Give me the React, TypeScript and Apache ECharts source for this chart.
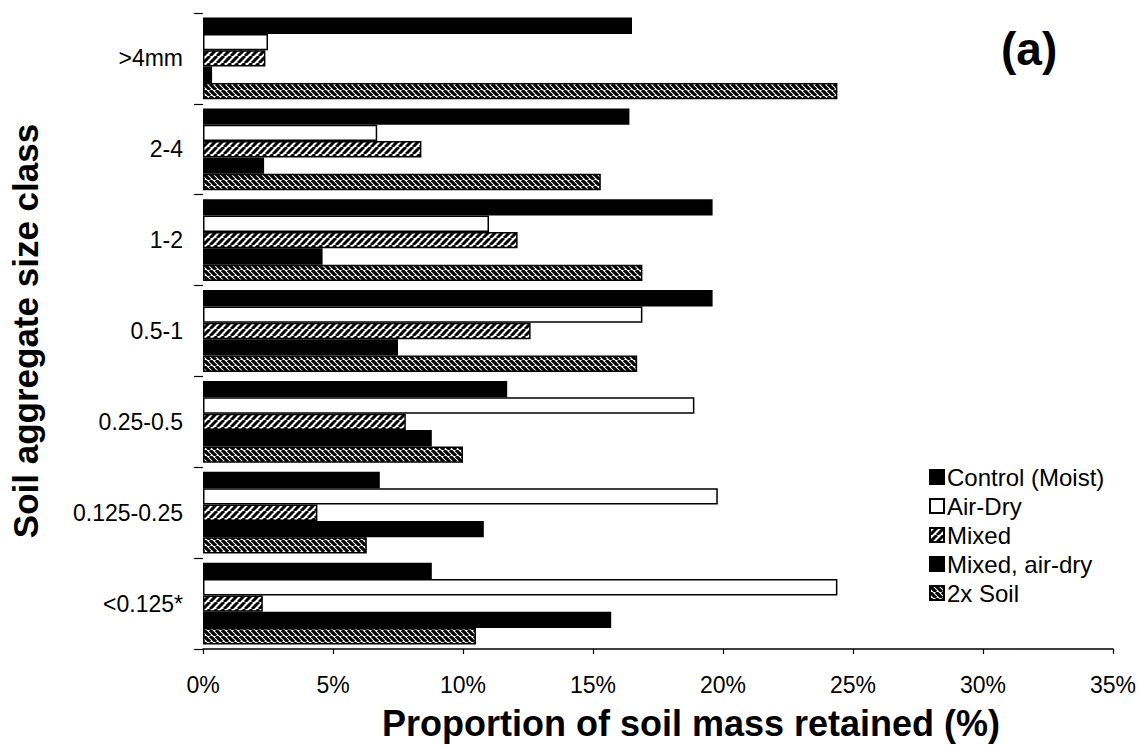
import React, { useEffect, useRef } from "react";
import * as echarts from "echarts";

// Soil aggregate size classes, top to bottom
const categories = [">4mm", "2-4", "1-2", "0.5-1", "0.25-0.5", "0.125-0.25", "<0.125*"];

// Proportion of soil mass retained (%) per treatment
const controlMoist = [16.5, 16.4, 19.6, 19.6, 11.7, 6.8, 8.8];
const airDry = [2.5, 6.7, 11.0, 16.9, 18.9, 19.8, 24.4];
const mixed = [2.4, 8.4, 12.1, 12.6, 7.8, 4.4, 2.3];
const mixedAirDry = [0.35, 2.35, 4.6, 7.5, 8.8, 10.8, 15.7];
const twoXSoil = [24.4, 15.3, 16.9, 16.7, 10.0, 6.3, 10.5];

const seriesNames = ["Control (Moist)", "Air-Dry", "Mixed", "Mixed, air-dry", "2x Soil"];

const FONT = "'Liberation Sans', Arial, Helvetica, sans-serif";

function makeHatch(dir: "fwd" | "back", size: number, lw: number) {
  const c = document.createElement("canvas");
  c.width = size;
  c.height = size;
  const g = c.getContext("2d")!;
  g.fillStyle = "#fff";
  g.fillRect(0, 0, size, size);
  g.strokeStyle = "#000";
  g.lineWidth = lw;
  g.beginPath();
  for (const k of [-size, 0, size]) {
    if (dir === "fwd") {
      g.moveTo(k, size);
      g.lineTo(k + size, 0);
    } else {
      g.moveTo(k, 0);
      g.lineTo(k + size, size);
    }
  }
  g.stroke();
  return c;
}

export default function App() {
  const ref = useRef<HTMLDivElement>(null);

  useEffect(() => {
    if (!ref.current) return;
    const chart = echarts.init(ref.current, null, { renderer: "svg" });

    const fwdHatch = makeHatch("fwd", 7, 3);
    const backHatch = makeHatch("back", 6, 3.2);

    const fills: any[] = [
      "#000",
      "#fff",
      { image: fwdHatch, repeat: "repeat" },
      "#000",
      { image: backHatch, repeat: "repeat" },
    ];
    const values = [controlMoist, airDry, mixed, mixedAirDry, twoXSoil];

    chart.setOption({
      animation: false,
      backgroundColor: "#fff",
      textStyle: { fontFamily: FONT, color: "#000" },
      grid: { left: 203, right: 32, top: 13, bottom: 91, containLabel: false },
      legend: {
        orient: "vertical",
        left: 924,
        top: 460,
        itemWidth: 14,
        itemHeight: 14,
        itemGap: 5,
        icon: "rect",
        data: seriesNames,
        textStyle: { fontFamily: FONT, fontSize: 24, color: "#000", lineHeight: 24, padding: [0, 0, 0, -2] },
      },
      xAxis: {
        type: "value",
        min: 0,
        max: 35,
        interval: 5,
        name: "Proportion of soil mass retained (%)",
        nameLocation: "middle",
        nameGap: 56,
        nameTextStyle: {
          fontFamily: FONT,
          fontSize: 36,
          fontWeight: "bold",
          color: "#000",
          padding: [0, 0, 0, 66],
        },
        axisLine: { show: true, lineStyle: { color: "#000", width: 1.5 } },
        axisTick: { show: true, length: 5, lineStyle: { color: "#000", width: 1.2 } },
        axisLabel: { formatter: "{value}%", fontSize: 23, color: "#000", margin: 24, fontFamily: FONT },
        splitLine: { show: false },
      },
      yAxis: {
        type: "category",
        inverse: true,
        data: categories,
        name: "Soil aggregate size class",
        nameLocation: "middle",
        nameRotate: 90,
        nameGap: 160,
        nameTextStyle: { fontFamily: FONT, fontSize: 35, fontWeight: "bold", color: "#000" },
        axisLine: { show: false },
        axisTick: { show: true, length: 9, alignWithLabel: false, lineStyle: { color: "#000", width: 1.2 } },
        axisLabel: { fontSize: 23, color: "#000", margin: 20, fontFamily: FONT },
        splitLine: { show: false },
      },
      graphic: [
        {
          type: "text",
          left: 1001,
          top: 26,
          style: { text: "(a)", fontFamily: FONT, fontSize: 46, fontWeight: "bold", fill: "#000" },
        },
      ],
      series: seriesNames.map((name, i) => ({
        name,
        type: "bar",
        data: values[i],
        barCategoryGap: "10%",
        barGap: "0%",
        itemStyle: { color: fills[i], borderColor: "#000", borderWidth: 1.5 },
      })),
    });

    return () => chart.dispose();
  }, []);

  return (
    <div
      ref={ref}
      style={{ position: "fixed", left: 0, top: 0, width: 1145, height: 746, background: "#fff" }}
    />
  );
}
